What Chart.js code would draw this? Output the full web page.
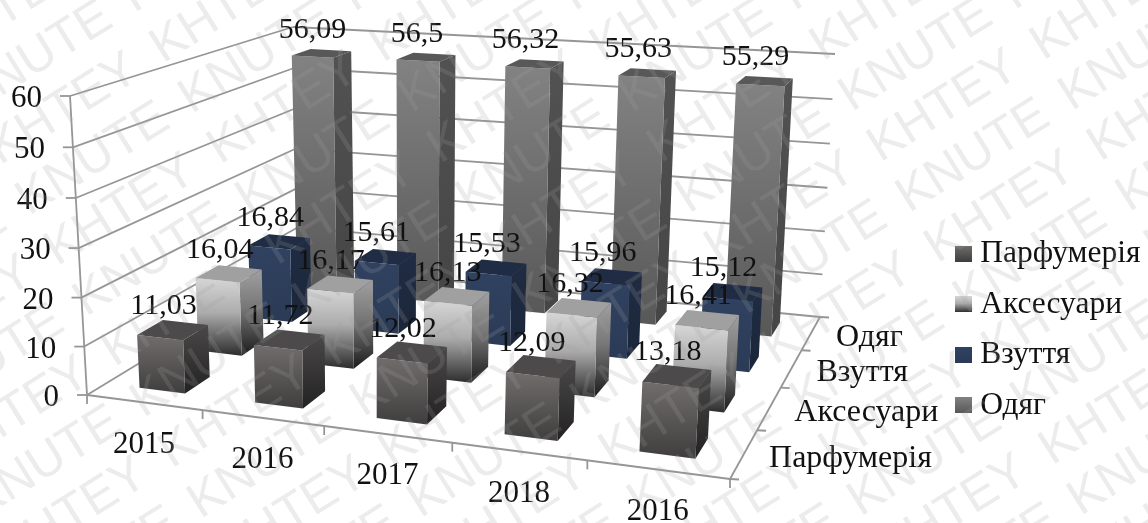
<!DOCTYPE html>
<html>
<head>
<meta charset="utf-8">
<title>Структура продажів</title>
<script src="https://cdn.jsdelivr.net/npm/chart.js@4"></script>
<style>
  html, body { margin: 0; background: #fff; }
  canvas { display: block; }
</style>
</head>
<body>
<canvas id="myChart" width="1148" height="523"></canvas>
<script>
// years along the front edge, product groups going back
const years = ['2015', '2016', '2017', '2018', '2016'];
const groups = ['Парфумерія', 'Аксесуари', 'Взуття', 'Одяг'];
const yTicks = { min: 0, max: 60, stepSize: 10 };

const perfume = [11.03, 11.72, 12.02, 12.09, 13.18];
const accessories = [16.04, 16.17, 16.13, 16.32, 16.41];
const shoes = [16.84, 15.61, 15.53, 15.96, 15.12];
const clothes = [56.09, 56.5, 56.32, 55.63, 55.29];
const seriesValues = [perfume, accessories, shoes, clothes];

const serif = '"Liberation Serif", "Times New Roman", serif';
const textColor = '#111';
const gridColor = '#969696';
const valueSize = 30;
const axisSize = 31;
const groupSize = 32;
const legendSize = 31.5;

// face colours per series: front gradient stops, side gradient stops, top
const faces = [
  { front: [[0, '#716d6d'], [1, '#3f3d3d']], side: [[0, '#4a4848'], [1, '#232222']], top: '#4c4a4a' },
  { front: [[0, '#d6d6d6'], [0.45, '#acacac'], [1, '#2c2c2c']], side: [[0, '#a0a0a0'], [0.45, '#767676'], [1, '#1c1c1c']], top: '#a0a0a0' },
  { front: [[0, '#304261'], [1, '#2b3b56']], side: [[0, '#1f2c43'], [1, '#1b2639']], top: '#1f2c43' },
  { front: [[0, '#828282'], [1, '#585858']], side: [[0, '#525252'], [1, '#454545']], top: '#585858' }
];

// floor and ceiling of the box, corners in order: front-left, front-right, back-right, back-left
const floorQuad = [[87, 395], [730, 479], [820, 317], [299, 266]];
const topQuad = [[70, 96], [748, 140], [835, 54], [293, 27]];
// heights foreshorten a little towards the floor
const heightBend = 0.035;

function quadMap(q) {
  const [[x0, y0], [x1, y1], [x2, y2], [x3, y3]] = q;
  const sx = x0 - x1 + x2 - x3, sy = y0 - y1 + y2 - y3;
  const dx1 = x1 - x2, dx2 = x3 - x2, dy1 = y1 - y2, dy2 = y3 - y2;
  const den = dx1 * dy2 - dx2 * dy1;
  const g = (sx * dy2 - dx2 * sy) / den, h = (dx1 * sy - sx * dy1) / den;
  const a = x1 - x0 + g * x1, b = x3 - x0 + h * x3;
  const d = y1 - y0 + g * y1, e = y3 - y0 + h * y3;
  return (u, v) => {
    const w = g * u + h * v + 1;
    return [(a * u + b * v + x0) / w, (d * u + e * v + y0) / w];
  };
}
const floorAt = quadMap(floorQuad);
const topAt = quadMap(topQuad);

// u, v, t are fractions of the x, depth and value scales
function project(u, v, t) {
  const f = floorAt(u, v), c = topAt(u, v);
  const k = t / (1 + heightBend * (1 - t));
  return [f[0] + (c[0] - f[0]) * k, f[1] + (c[1] - f[1]) * k];
}

function line(ctx, a, b) {
  ctx.beginPath();
  ctx.moveTo(a[0], a[1]);
  ctx.lineTo(b[0], b[1]);
  ctx.stroke();
}

function poly(ctx, pts, fill) {
  ctx.beginPath();
  pts.forEach((p, i) => i ? ctx.lineTo(p[0], p[1]) : ctx.moveTo(p[0], p[1]));
  ctx.closePath();
  ctx.fillStyle = fill;
  ctx.fill();
}

function vGradient(ctx, y0, y1, stops) {
  const g = ctx.createLinearGradient(0, y0, 0, y1);
  stops.forEach(s => g.addColorStop(s[0], s[1]));
  return g;
}

function fracs(chart) {
  const { x, y, z } = chart.scales;
  return {
    u: px => (px - x.left) / x.width,
    t: py => (y.bottom - py) / y.height,
    v: i => (z.getPixelForValue(i) - z.left) / z.width,
    halfDepth: 0.21 / groups.length
  };
}

function drawBox(chart) {
  const { ctx } = chart;
  const { u, t, v, halfDepth } = fracs(chart);
  const labels = [];

  // rows from the back wall forward so nearer bars cover farther ones
  for (let s = seriesValues.length - 1; s >= 0; s--) {
    const meta = chart.getDatasetMeta(s);
    for (let i = meta.data.length - 1; i >= 0; i--) {
      const bar = meta.data[i];
      const l = u(bar.x - bar.width / 2), r = u(bar.x + bar.width / 2);
      const f = v(s) - halfDepth, b = v(s) + halfDepth;
      const h = t(bar.y);

      const fl0 = project(l, f, 0), fr0 = project(r, f, 0), br0 = project(r, b, 0);
      const fl1 = project(l, f, h), fr1 = project(r, f, h), br1 = project(r, b, h), bl1 = project(l, b, h);

      poly(ctx, [fr0, br0, br1, fr1], vGradient(ctx, br1[1], fr0[1], faces[s].side));
      poly(ctx, [fl0, fr0, fr1, fl1], vGradient(ctx, fl1[1], fr0[1], faces[s].front));
      poly(ctx, [fl1, fr1, br1, bl1], faces[s].top);

      labels.push({
        text: String(seriesValues[s][i]).replace('.', ','),
        x: (fl1[0] + br1[0]) / 2 - 9,
        y: (fl1[1] + br1[1]) / 2 - 23.5
      });
    }
  }

  ctx.fillStyle = textColor;
  ctx.font = valueSize + 'px ' + serif;
  ctx.textAlign = 'center';
  ctx.textBaseline = 'middle';
  labels.forEach(l => ctx.fillText(l.text, l.x, l.y));
}

function drawWalls(chart) {
  const { ctx, scales } = chart;
  const { y, x } = scales;
  const { u, t, v } = fracs(chart);

  ctx.save();
  ctx.strokeStyle = gridColor;
  ctx.lineWidth = 1.8;

  // gridlines on the left and back walls, with value labels by the left edge
  ctx.fillStyle = textColor;
  ctx.font = axisSize + 'px ' + serif;
  ctx.textBaseline = 'middle';
  ctx.textAlign = 'right';
  y.ticks.forEach(tick => {
    const h = t(y.getPixelForValue(tick.value));
    const a = project(0, 0, h), b = project(0, 1, h), c = project(1, 1, h);
    line(ctx, a, b);
    line(ctx, b, c);
    line(ctx, a, [a[0] - 10, a[1]]);
    ctx.fillText(tick.label, a[0] - 28, a[1] + 3);
  });

  line(ctx, project(0, 0, 0), project(0, 0, 1));
  line(ctx, project(0, 0, 0), project(1, 0, 0));
  line(ctx, project(1, 0, 0), project(1, 1, 0));

  // category ticks and labels along the front edge
  ctx.textAlign = 'center';
  const stepX = x.getPixelForValue(1) - x.getPixelForValue(0);
  for (let i = 0; i <= years.length; i++) {
    const p = project(u(x.getPixelForValue(0) + (i - 0.5) * stepX), 0, 0);
    line(ctx, p, [p[0], p[1] + 9]);
  }
  years.forEach((year, i) => {
    const p = project(u(x.getPixelForValue(i)), 0, 0);
    ctx.fillText(year, p[0], p[1] + 42);
  });

  // depth ticks and labels along the right edge
  const stepZ = v(1) - v(0);
  ctx.font = groupSize + 'px ' + serif;
  ctx.textAlign = 'left';
  for (let i = 0; i <= groups.length; i++) {
    const p = project(1, v(0) + (i - 0.5) * stepZ, 0);
    line(ctx, p, [p[0] + 9, p[1] + 0.5]);
  }
  groups.forEach((group, i) => {
    const p = project(1, v(i), 0);
    ctx.fillText(group, p[0] + 25, p[1] + 4.5);
  });
  ctx.restore();
}

// repeated diagonal stamp over the whole figure, rows alternate the two spellings
function drawStamp(chart) {
  const { ctx } = chart;
  ctx.save();
  ctx.translate(873, 151);
  ctx.rotate(-32 * Math.PI / 180);
  ctx.font = '50px "Liberation Sans", Arial, sans-serif';
  ctx.fillStyle = 'rgba(160,160,160,0.2)';
  ctx.textAlign = 'left';
  ctx.textBaseline = 'middle';
  for (let row = -16; row <= 16; row++) {
    const word = (row + 16) % 2 ? 'KNUTE' : 'KHTEY';
    for (let col = -8; col <= 8; col++) {
      ctx.fillText(word, col * 192 - row * 2.5, row * 58);
    }
  }
  ctx.restore();
}

const box3d = {
  id: 'box3d',
  beforeDatasetsDraw(chart) {
    const { ctx } = chart;
    ctx.save();
    drawWalls(chart);
    drawBox(chart);
    ctx.restore();
    return false;
  },
  afterDraw(chart) {
    drawStamp(chart);
  }
};

function legendSwatch(stops) {
  const c = document.createElement('canvas');
  c.width = 17;
  c.height = 16;
  const g = c.getContext('2d');
  g.fillStyle = vGradient(g, 0, 16, stops);
  g.fillRect(0, 0, 17, 16);
  return c;
}

var ctx = document.getElementById('myChart');
var myChart = new Chart(ctx, {
  type: 'bar',
  data: {
    labels: years,
    datasets: groups.map((name, s) => ({
      label: name,
      data: seriesValues[s],
      xAxisID: 'x',
      yAxisID: 'y',
      grouped: false,
      barPercentage: 0.4,
      categoryPercentage: 1,
      backgroundColor: faces[s].top
    }))
  },
  plugins: [box3d],
  options: {
    responsive: false,
    animation: false,
    layout: { padding: { top: 136, right: -2.5 } },
    scales: {
      x: { type: 'category', offset: true, display: false },
      z: { type: 'category', axis: 'x', labels: groups, offset: true, display: false },
      y: { type: 'linear', min: yTicks.min, max: yTicks.max, ticks: { stepSize: yTicks.stepSize }, display: false }
    },
    plugins: {
      tooltip: { enabled: false },
      legend: {
        position: 'right',
        labels: {
          usePointStyle: true,
          boxWidth: 1,
          padding: 19,
          color: textColor,
          font: { family: serif, size: legendSize },
          generateLabels: chart => groups.map((name, s) => ({
            text: name,
            fontColor: textColor,
            pointStyle: legendSwatch(faces[s].front),
            datasetIndex: s,
            lineWidth: 0
          }))
        }
      }
    }
  }
});
</script>
</body>
</html>
